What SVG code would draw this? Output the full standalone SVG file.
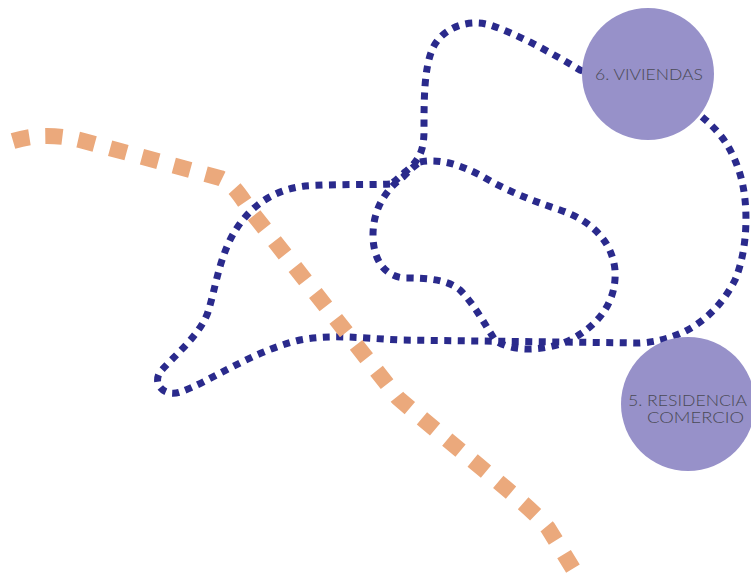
<svg xmlns="http://www.w3.org/2000/svg" width="751" height="575" viewBox="0 0 751 575">
<style>
.route{fill:none;stroke:#2a2a8c;stroke-width:7;stroke-dasharray:7 6.5}
.road{fill:none;stroke:#eba97c;stroke-width:16;stroke-dasharray:17 16}
.zone{fill:#9791c9}
.lbl{font-family:"Lato","Open Sans","Liberation Sans",sans-serif;font-weight:300;font-size:15px;fill:#4a4a55}
</style>
<rect width="751" height="575" fill="#ffffff"/>
<g id="connectors">
<path id="outer-loop" class="route" d="M390,184 C370,185 330,184 305,186 C270,190 245,210 230,240 C218,265 215,290 208,312 C200,335 175,355 160,372 C152,385 165,397 180,392 C210,382 250,352 300,340 C330,334 360,338 400,340 L640,343 C690,340 720,310 735,280 C748,250 750,200 738,168 C728,140 715,128 700,115 L580,70 C555,55 520,35 490,25 C465,18 440,30 432,50 C424,70 424,100 424,130 C424,150 420,160 405,172 C398,178 395,182 390,184 Z"/>
<path id="inner-loop" class="route" d="M420,162 C440,158 460,165 480,175 C505,190 530,200 560,210 C590,220 612,240 615,270 C617,300 600,325 570,340 C545,352 510,352 495,340 C485,325 475,305 460,290 C448,280 430,278 405,278 C385,277 373,260 373,235 C373,210 385,190 403,177 C410,170 415,165 420,162 Z"/>
<path id="road" class="road" d="M13,141 C30,136 50,133 80,140 L220,178 C232,183 238,192 250,210 L398,398 C470,460 530,505 548,528 L575,572"/>
</g>
<g id="node-viviendas">
<circle class="zone" cx="648" cy="74" r="66"/>
<text class="lbl" x="595" y="80" textLength="108" lengthAdjust="spacingAndGlyphs">6. VIVIENDAS</text>
</g>
<g id="node-residencia">
<circle class="zone" cx="688" cy="404" r="67"/>
<text class="lbl" x="628" y="406" textLength="119" lengthAdjust="spacingAndGlyphs">5. RESIDENCIA</text>
<text class="lbl" x="647" y="423" textLength="97" lengthAdjust="spacingAndGlyphs">COMERCIO</text>
</g>
</svg>
